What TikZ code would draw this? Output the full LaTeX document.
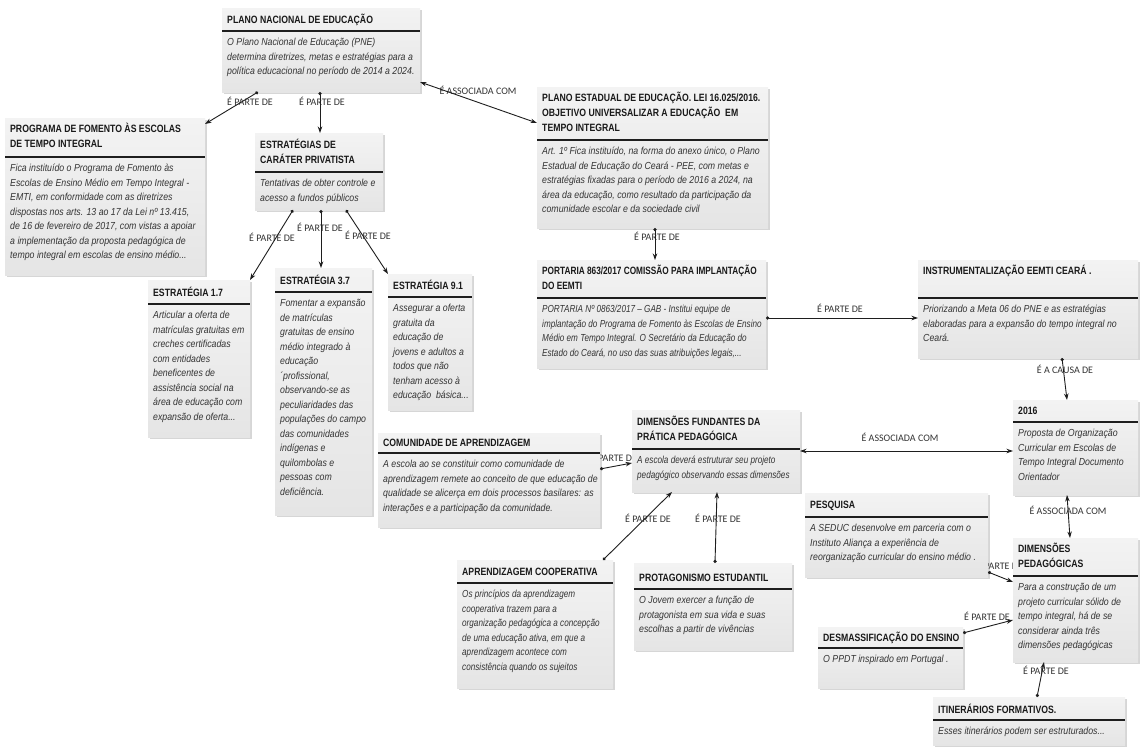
\documentclass[tikz,border=0pt]{standalone}
\usepackage{fontspec}
\newfontfamily\nar{Liberation Sans}[FakeStretch=0.82]
\newfontfamily\narr{Liberation Sans}[FakeStretch=0.78]
\newfontfamily\narb{Liberation Sans}[FakeStretch=0.86]
\newfontfamily\narc{Liberation Sans}[FakeStretch=0.80]
\newfontfamily\lblfont{Carlito}
\usetikzlibrary{arrows.meta,shadows}
\pgfdeclarelayer{background}
\pgfsetlayers{background,main}
\definecolor{boxtop}{RGB}{243,243,243}
\definecolor{boxbot}{RGB}{229,229,229}
\definecolor{titlecol}{RGB}{25,25,25}
\definecolor{bodycol}{RGB}{52,52,52}
\definecolor{linecol}{RGB}{30,30,30}
\tikzset{
 cbox/.style={rectangle, inner sep=0pt, outer sep=0pt, top color=boxtop, bottom color=boxbot, draw=none,
   drop shadow={shadow xshift=1.5pt, shadow yshift=-1.5pt, opacity=0.35, fill=black!45}},
 ctitlex/.style={},
 cbodyx/.style={},
 ctitle/.style={inner sep=0pt, align=left, text=titlecol, font={\nar\bfseries\fontsize{10.6}{15}\selectfont}, ctitlex},
 cbody/.style={inner sep=0pt, align=left, text=bodycol, font={\narb\itshape\fontsize{10.2}{14.5}\selectfont}, cbodyx},
 tight/.style={cbodyx/.style={font={\narc\itshape\fontsize{10.2}{14.5}\selectfont}}},
 tighttitle/.style={ctitlex/.style={font={\narr\bfseries\fontsize{10.6}{15}\selectfont}}},
 csep/.style={draw=linecol, line width=1.1pt},
 lbl/.style={inner sep=0pt, text=black!80, font={\lblfont\fontsize{10}{11}\selectfont}},
 cnx/.style={draw=linecol, line width=0.9pt, {Circle[length=3.2pt]}-{Stealth[length=6.5pt,width=4.5pt]}},
 cnxboth/.style={draw=linecol, line width=0.9pt, {Stealth[length=6.5pt,width=4.5pt]}-{Stealth[length=6.5pt,width=4.5pt]}},
}
% #1 name, #2 x1, #3 y1, #4 x2, #5 y2, #6 title baseline, #7 separator y, #8 title, #9 body
\newcommand\cmapbox[9]{%
  \node[cbox, minimum width={(#4-#2)*1pt}, minimum height={(#5-#3)*1pt}, anchor=north west] (#1) at (#2,-#3) {};
  \node[ctitle, anchor=north west] (#1-t) at ({#2+5},{-(#6-10.5)}) {\strut #8};
  \draw[csep] (#2,-#7) -- (#4,-#7);
  \node[cbody, anchor=north west] (#1-b) at ({#2+5},{-(#7+14.5-10.15)}) {\strut #9};
}
\begin{document}
\begin{tikzpicture}[x=1pt,y=1pt]
\useasboundingbox (0,0) rectangle (1143,-750);
\begin{pgfonlayer}{background}
\fill[white] (0,0) rectangle (1143,-750);
\node[lbl] (l1) at (250,-101) {É PARTE DE};
\node[lbl] (l2) at (322,-101) {É PARTE DE};
\node[lbl] (l3) at (478,-90) {É ASSOCIADA COM};
\node[lbl] (l4) at (272,-237) {É PARTE DE};
\node[lbl] (l5) at (320,-227) {É PARTE DE};
\node[lbl] (l6) at (368,-235) {É PARTE DE};
\node[lbl] (l7) at (657,-236) {É PARTE DE};
\node[lbl] (l8) at (840,-308) {É PARTE DE};
\node[lbl] (l9) at (1065,-369) {É A CAUSA DE};
\node[lbl] (l10) at (1068,-510) {É ASSOCIADA COM};
\node[lbl] (l11) at (900,-437) {É ASSOCIADA COM};
\node[lbl] (l12) at (614,-457) {É PARTE DE};
\node[lbl] (l13) at (648,-518) {É PARTE DE};
\node[lbl] (l14) at (718,-518) {É PARTE DE};
\node[lbl] (l15) at (1000,-565) {É PARTE DE};
\node[lbl] (l16) at (987,-616) {É PARTE DE};
\node[lbl] (l17) at (1046,-670) {É PARTE DE};
\end{pgfonlayer}

\cmapbox{pne}{222}{8}{420}{92}{23}{31}{PLANO NACIONAL DE EDUCAÇÃO}
 {O Plano Nacional de Educação (PNE)\\determina diretrizes, metas e estratégias para a\\política educacional no período de 2014 a 2024.}
\cmapbox{prog}{5}{118}{205}{275}{132}{157}{PROGRAMA DE FOMENTO ÀS ESCOLAS\\DE TEMPO INTEGRAL}
 {Fica instituído o Programa de Fomento às\\Escolas de Ensino Médio em Tempo Integral -\\EMTI, em conformidade com as diretrizes\\dispostas nos arts. 13 ao 17 da Lei nº 13.415,\\de 16 de fevereiro de 2017, com vistas a apoiar\\a implementação da proposta pedagógica de\\tempo integral em escolas de ensino médio...}
\cmapbox{priv}{255}{133}{383}{210}{148}{172}{ESTRATÉGIAS DE\\CARÁTER PRIVATISTA}
 {Tentativas de obter controle e\\acesso a fundos públicos}
\cmapbox{esta}{148}{280}{250}{437}{296}{304}{ESTRATÉGIA 1.7}
 {Articular a oferta de\\matrículas gratuitas em\\creches certificadas\\com entidades\\beneficentes de\\assistência social na\\área de educação com\\expansão de oferta...}
\cmapbox{estb}{275}{268}{372}{515}{284}{292}{ESTRATÉGIA 3.7}
 {Fomentar a expansão\\de matrículas\\gratuitas de ensino\\médio integrado à\\educação\\´profissional,\\observando-se as\\peculiaridades das\\populações do campo\\das comunidades\\indígenas e\\quilombolas e\\pessoas com\\deficiência.}
\cmapbox{estc}{388}{274}{472}{410}{289}{297}{ESTRATÉGIA 9.1}
 {Assegurar a oferta\\gratuita da\\educação de\\jovens e adultos a\\todos que não\\tenham acesso à\\educação\ \ básica...}
\cmapbox{pee}{537}{87}{768}{228}{101}{140}{PLANO ESTADUAL DE EDUCAÇÃO. LEI 16.025/2016.\\OBJETIVO UNIVERSALIZAR A EDUCAÇÃO\ \ EM\\TEMPO INTEGRAL}
 {Art. 1º Fica instituído, na forma do anexo único, o Plano\\Estadual de Educação do Ceará - PEE, com metas e\\estratégias fixadas para o período de 2016 a 2024, na\\área da educação, como resultado da participação da\\comunidade escolar e da sociedade civil}
\begin{scope}[tight, tighttitle]
\cmapbox{port}{537}{260}{766}{368}{274}{298}{PORTARIA 863/2017 COMISSÃO PARA IMPLANTAÇÃO\\DO EEMTI}
 {PORTARIA Nº 0863/2017 – GAB - Institui equipe de\\implantação do Programa de Fomento às Escolas de Ensino\\Médio em Tempo Integral. O Secretário da Educação do\\Estado do Ceará, no uso das suas atribuições legais,...}
\end{scope}
\cmapbox{instr}{918}{260}{1138}{358}{274}{298}{INSTRUMENTALIZAÇÃO EEMTI CEARÁ .}
 {Priorizando a Meta 06 do PNE e as estratégias\\elaboradas para a expansão do tempo integral no\\Ceará.}
\cmapbox{doc}{1013}{400}{1138}{495}{414}{422}{2016}
 {Proposta de Organização\\Curricular em Escolas de\\Tempo Integral Documento\\Orientador}
\cmapbox{dped}{1013}{538}{1138}{662}{552}{576}{DIMENSÕES\\PEDAGÓGICAS}
 {Para a construção de um\\projeto curricular sólido de\\tempo integral, há de se\\considerar ainda três\\dimensões pedagógicas}
\cmapbox{itin}{933}{697}{1125}{745}{713}{720}{ITINERÁRIOS FORMATIVOS.}
 {Esses itinerários podem ser estruturados...}
\cmapbox{pesq}{805}{493}{988}{577}{508}{517}{PESQUISA}
 {A SEDUC desenvolve em parceria com o\\Instituto Aliança a experiência de\\reorganização curricular do ensino médio .}
\cmapbox{desm}{818}{627}{963}{688}{641}{648}{DESMASSIFICAÇÃO DO ENSINO}
 {O PPDT inspirado em Portugal .}
\begin{scope}[tight]
\cmapbox{dfund}{632}{410}{800}{492}{425}{449}{DIMENSÕES FUNDANTES DA\\PRÁTICA PEDAGÓGICA}
 {A escola deverá estruturar seu projeto\\pedagógico observando essas dimensões}
\end{scope}
\cmapbox{comu}{378}{433}{600}{527}{446}{453}{COMUNIDADE DE APRENDIZAGEM}
 {A escola ao se constituir como comunidade de\\aprendizagem remete ao conceito de que educação de\\qualidade se alicerça em dois processos basilares: as\\interações e a participação da comunidade.}
\begin{scope}[tight]
\cmapbox{coop}{457}{560}{613}{688}{575}{583}{APRENDIZAGEM COOPERATIVA}
 {Os princípios da aprendizagem\\cooperativa trazem para a\\organização pedagógica a concepção\\de uma educação ativa, em que a\\aprendizagem acontece com\\consistência quando os sujeitos}
\end{scope}
\cmapbox{prot}{634}{563}{792}{650}{581}{589}{PROTAGONISMO ESTUDANTIL}
 {O Jovem exercer a função de\\protagonista em sua vida e suas\\escolhas a partir de vivências}

% connectors
\draw[cnx] ([xshift=36pt]pne.south west) -- ([yshift=-6pt]prog.north east);
\draw[cnx] ([xshift=98pt]pne.south west) -- ([xshift=65pt]priv.north west);
\draw[cnxboth] ([yshift=10pt]pne.south east) -- ([yshift=-36pt]pee.north west);
\draw[cnx] ([xshift=38pt]priv.south west) -- (esta.north east);
\draw[cnx] ([xshift=66pt]priv.south west) -- ([xshift=46pt]estb.north west);
\draw[cnx] ([xshift=91pt]priv.south west) -- (estc.north west);
\draw[cnx] ([xshift=118pt]pee.south west) -- ([xshift=118pt]port.north west);
\draw[cnx] ([yshift=-58pt]port.north east) -- ([yshift=-58pt]instr.north west);
\draw[cnx] ([xshift=144pt]instr.south west) -- ([xshift=54pt]doc.north west);
\draw[cnxboth] ([xshift=54pt]doc.south west) -- ([xshift=57pt]dped.north west);
\draw[cnxboth] ([yshift=-41pt]dfund.north east) -- ([yshift=-51pt]doc.north west);
\draw[cnx] ([yshift=-36pt]comu.north east) -- ([yshift=-53pt]dfund.north west);
\draw[cnx] ([xshift=146pt]coop.north west) -- ([xshift=40pt]dfund.south west);
\draw[cnx] ([xshift=81pt]prot.north west) -- ([xshift=85pt]dfund.south west);
\draw[cnx] ([yshift=5pt]pesq.south east) -- ([yshift=-44pt]dped.north west);
\draw[cnx] ([yshift=-6pt]desm.north east) -- ([yshift=-82pt]dped.north west);
\draw[cnx] ([xshift=104pt]itin.north west) -- ([xshift=31pt]dped.south west);
\end{tikzpicture}
\end{document}
